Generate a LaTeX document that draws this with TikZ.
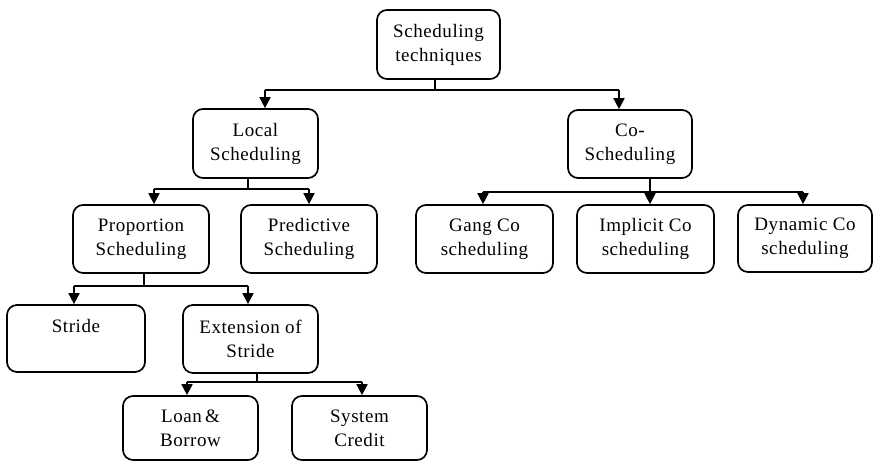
\documentclass[tikz,border=0pt]{standalone}
\usepackage{fontspec}
\setmainfont{Liberation Serif}
\usetikzlibrary{arrows.meta}
\begin{document}
\begin{tikzpicture}[x=1pt,y=-1pt,
  box/.style={draw, line width=1.7pt, rounded corners=10pt, align=center, inner sep=0pt,
    font=\fontsize{19}{24}\selectfont\addfontfeature{LetterSpace=3}},
  conn/.style={line width=1.7pt},
  arr/.style={conn, -{Triangle[width=11pt,length=11pt]}}]
\useasboundingbox (0,0) rectangle (873,462);

% nodes
\node[box, minimum width=123pt, minimum height=69pt] (top) at (438.5,44.5) {Scheduling\\techniques};
\node[box, minimum width=125pt, minimum height=69pt] (local) at (255.5,143.5) {Local\\Scheduling};
\node[box, minimum width=124pt, minimum height=68pt] (co) at (630,144) {Co-\\Scheduling};
\node[box, minimum width=136pt, minimum height=68pt] (prop) at (141,239) {Proportion\\Scheduling};
\node[box, minimum width=136pt, minimum height=68pt] (pred) at (309,239) {Predictive\\Scheduling};
\node[box, minimum width=137pt, minimum height=68pt] (gang) at (484.5,239) {Gang Co\\scheduling};
\node[box, minimum width=137pt, minimum height=68pt] (impl) at (645.5,239) {Implicit Co\\scheduling};
\node[box, minimum width=134pt, minimum height=67pt] (dyn) at (805,238.5) {Dynamic Co\\scheduling};
\node[box, minimum width=138pt, minimum height=67pt] (stride) at (76,338.5) {Stride\\\phantom{Stride}};
\node[box, minimum width=135pt, minimum height=68pt] (ext) at (250.5,339) {Extension of\\Stride};
\node[box, minimum width=135pt, minimum height=64pt] (loan) at (190.5,428) {Loan\,\&\\Borrow};
\node[box, minimum width=135pt, minimum height=64pt] (sys) at (359.5,428) {System\\Credit};

% junction coordinates
\coordinate (j0) at (435,90);
\coordinate (a01) at (265,90);
\coordinate (a02) at (619,90);

\coordinate (j1) at (248,189);
\coordinate (a11) at (154,189);
\coordinate (a12) at (309,189);

\coordinate (j2) at (650,192);
\coordinate (a21) at (483,192);
\coordinate (a23) at (803,192);

\coordinate (j3) at (144,286);
\coordinate (a31) at (74,286);
\coordinate (a32) at (248,286);

\coordinate (j4) at (257,382);
\coordinate (a41) at (187,382);
\coordinate (a42) at (362,382);

% connectors
\draw[conn] (top.south -| j0) -- (j0);
\draw[conn] (a01) -- (a02);
\draw[arr] (a01) -- (local.north -| a01);
\draw[arr] (a02) -- (co.north -| a02);

\draw[conn] (local.south -| j1) -- (j1);
\draw[conn] (a11) -- (a12);
\draw[arr] (a11) -- (prop.north -| a11);
\draw[arr] (a12) -- (pred.north -| a12);

\draw[conn] (co.south -| j2) -- (j2);
\draw[conn] (a21) -- (a23);
\draw[arr] (a21) -- (gang.north -| a21);
\draw[arr] (j2) -- (impl.north -| j2);
\draw[arr] (a23) -- (dyn.north -| a23);

\draw[conn] (prop.south -| j3) -- (j3);
\draw[conn] (a31) -- (a32);
\draw[arr] (a31) -- (stride.north -| a31);
\draw[arr] (a32) -- (ext.north -| a32);

\draw[conn] (ext.south -| j4) -- (j4);
\draw[conn] (a41) -- (a42);
\draw[arr] (a41) -- (loan.north -| a41);
\draw[arr] (a42) -- (sys.north -| a42);
\end{tikzpicture}
\end{document}
